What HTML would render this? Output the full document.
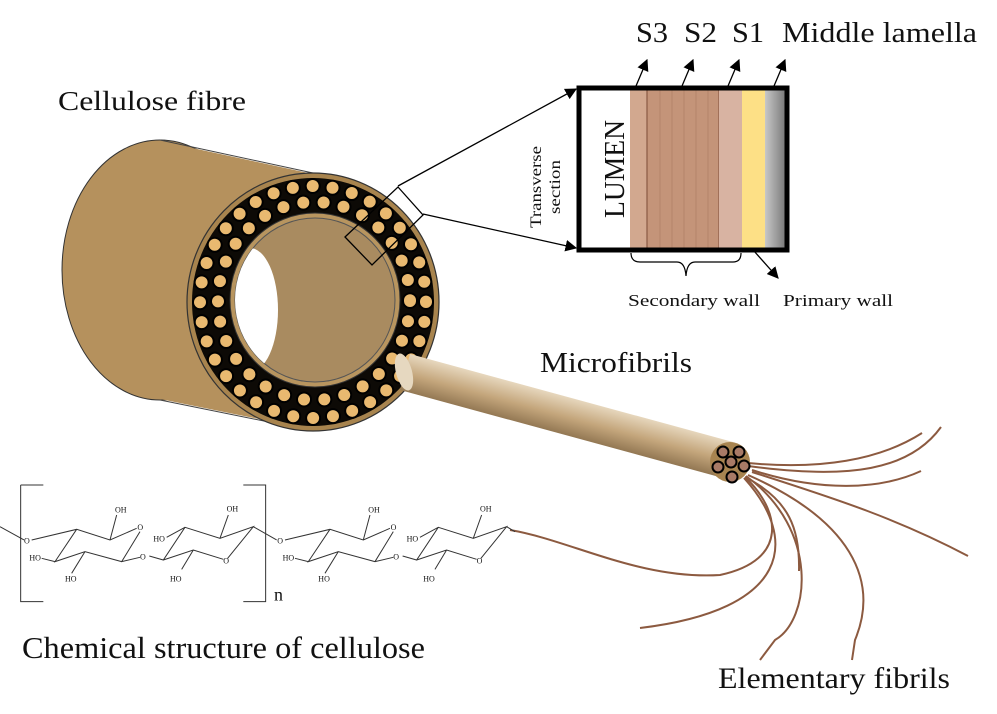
<!DOCTYPE html>
<html><head><meta charset="utf-8"><style>
body{margin:0;background:#fff}
svg{display:block}
text{font-family:"Liberation Serif",serif;fill:#111}
</style></head><body>
<svg width="997" height="714" viewBox="0 0 997 714" xmlns="http://www.w3.org/2000/svg">
<defs>
<linearGradient id="cab" gradientUnits="userSpaceOnUse" x1="560" y1="435" x2="570" y2="398">
<stop offset="0" stop-color="#8f7450"/><stop offset="0.5" stop-color="#c4a67c"/><stop offset="1" stop-color="#e6d6bc"/></linearGradient>
<linearGradient id="gray" x1="0" x2="1"><stop offset="0" stop-color="#c8c8c8"/><stop offset="1" stop-color="#777"/></linearGradient>
<clipPath id="hole"><ellipse cx="315" cy="300" rx="80" ry="82"/></clipPath>
<marker id="ar" viewBox="0 0 10 10" refX="9" refY="5" markerWidth="9" markerHeight="9" orient="auto"><path d="M0,0 L10,5 L0,10 z" fill="#000"/></marker>
</defs>

<ellipse cx="160" cy="270" rx="98" ry="130" fill="#b5915d" stroke="#333" stroke-width="1"/>
<path d="M160,140 L313,173 M160,400 L313,431" stroke="#444" stroke-width="1"/>
<path d="M160,141 L313,174 L313,430 L160,399 Z" fill="#b5915d"/>
<ellipse cx="313" cy="302" rx="126" ry="129" fill="#a8844e" stroke="#333" stroke-width="1.2"/>
<ellipse cx="313" cy="302" rx="121" ry="124" fill="#0d0a06"/>
<ellipse cx="313" cy="302" rx="113" ry="116" fill="none" stroke="#000" stroke-width="16" stroke-linecap="round" stroke-dasharray="0 20" pathLength="720"/>
<ellipse cx="313" cy="302" rx="113" ry="116" fill="none" stroke="#e9b970" stroke-width="12" stroke-linecap="round" stroke-dasharray="0 20" pathLength="720"/>
<ellipse cx="314" cy="301" rx="96" ry="99" fill="none" stroke="#000" stroke-width="16" stroke-linecap="round" stroke-dasharray="0 20" pathLength="600"/>
<ellipse cx="314" cy="301" rx="96" ry="99" fill="none" stroke="#e9b970" stroke-width="12" stroke-linecap="round" stroke-dasharray="0 20" pathLength="600"/>
<ellipse cx="315" cy="300" rx="85" ry="87" fill="#b8955f" stroke="#333" stroke-width="1"/>
<ellipse cx="315" cy="300" rx="80" ry="82" fill="#a98b60" stroke="#555" stroke-width="1"/>
<g clip-path="url(#hole)"><ellipse cx="250" cy="310" rx="28" ry="62" fill="#fff"/></g>

<path d="M345,237 L398,187 L423,215 L372,265 Z" fill="none" stroke="#000" stroke-width="1.3"/>
<line x1="398" y1="186" x2="576" y2="89" stroke="#000" stroke-width="1.3" marker-end="url(#ar)"/>
<line x1="423" y1="214" x2="576" y2="248" stroke="#000" stroke-width="1.3" marker-end="url(#ar)"/>

<rect x="580" y="89" width="50" height="160" fill="#fff"/>
<rect x="630" y="89" width="17" height="160" fill="#d2a88f"/>
<rect x="647" y="89" width="72" height="160" fill="#c49479"/>
<g stroke="#b07f66" stroke-width="0.8">
<line x1="660" y1="89" x2="660" y2="249"/><line x1="672" y1="89" x2="672" y2="249"/><line x1="684" y1="89" x2="684" y2="249"/><line x1="696" y1="89" x2="696" y2="249"/><line x1="708" y1="89" x2="708" y2="249"/>
</g>
<line x1="647" y1="89" x2="647" y2="249" stroke="#8a5a44" stroke-width="1.2"/>
<line x1="719" y1="89" x2="719" y2="249" stroke="#8a5a44" stroke-width="1.2"/>
<rect x="719" y="89" width="23" height="160" fill="#d8b3a2"/>
<rect x="742" y="89" width="23" height="160" fill="#fde086"/>
<rect x="765" y="89" width="21" height="160" fill="url(#gray)"/>
<rect x="579" y="88" width="208" height="162" fill="none" stroke="#000" stroke-width="5"/>
<text transform="translate(624,169) rotate(-90)" font-size="28" text-anchor="middle" textLength="98" lengthAdjust="spacingAndGlyphs">LUMEN</text>
<text transform="translate(541,187) rotate(-90)" font-size="16" text-anchor="middle" textLength="82" lengthAdjust="spacingAndGlyphs">Transverse</text>
<text transform="translate(560,187) rotate(-90)" font-size="16" text-anchor="middle" textLength="54" lengthAdjust="spacingAndGlyphs">section</text>
<g stroke="#000" stroke-width="1.3">
<line x1="636" y1="86" x2="647" y2="60" marker-end="url(#ar)"/>
<line x1="682" y1="86" x2="693" y2="60" marker-end="url(#ar)"/>
<line x1="728" y1="86" x2="739" y2="60" marker-end="url(#ar)"/>
<line x1="774" y1="86" x2="785" y2="60" marker-end="url(#ar)"/>
<line x1="754" y1="251" x2="778" y2="278" marker-end="url(#ar)"/>
</g>
<path d="M631,253 Q631,262 640,262 L677,262 Q685,262 686,276 Q687,262 695,262 L733,262 Q741,262 741,253" fill="none" stroke="#000" stroke-width="1.2"/>
<text x="628" y="306" font-size="17" textLength="132" lengthAdjust="spacingAndGlyphs">Secondary wall</text>
<text x="783" y="306" font-size="17" textLength="110" lengthAdjust="spacingAndGlyphs">Primary wall</text>
<text x="636" y="42" font-size="28" textLength="32" lengthAdjust="spacingAndGlyphs">S3</text>
<text x="684" y="42" font-size="28" textLength="33" lengthAdjust="spacingAndGlyphs">S2</text>
<text x="732" y="42" font-size="28" textLength="32" lengthAdjust="spacingAndGlyphs">S1</text>
<text x="782" y="42" font-size="28" textLength="195" lengthAdjust="spacingAndGlyphs">Middle lamella</text>
<text x="58" y="110" font-size="27" textLength="188" lengthAdjust="spacingAndGlyphs">Cellulose fibre</text>
<text x="540" y="372" font-size="28" textLength="152" lengthAdjust="spacingAndGlyphs">Microfibrils</text>
<text x="22" y="658" font-size="31" textLength="403" lengthAdjust="spacingAndGlyphs">Chemical structure of cellulose</text>
<text x="718" y="688" font-size="30" textLength="232" lengthAdjust="spacingAndGlyphs">Elementary fibrils</text>

<g fill="none" stroke="#8c5a40" stroke-width="2">
<path d="M748,463 C820,470 880,460 922,433"/>
<path d="M748,466 C850,480 910,470 941,427"/>
<path d="M752,470 C820,492 880,490 921,471"/>
<path d="M752,472 C840,500 900,520 968,556"/>
<path d="M748,475 C850,520 880,580 855,640 L852,660"/>
<path d="M746,476 C820,530 810,620 775,640 L760,660"/>
<path d="M744,478 C800,540 790,610 640,628"/>
<path d="M745,477 C790,500 800,530 799,571"/>
<path d="M745,477 C780,510 790,560 720,575 C640,580 570,540 510,530"/>
</g>
<polygon points="410,354 733,442 723,478 400,390" fill="url(#cab)"/>
<ellipse cx="404" cy="372" rx="8" ry="19" fill="#e6d8c0" transform="rotate(-15 404 372)"/>
<circle cx="730" cy="462" r="20" fill="#a88450"/>
<g fill="#a87a66" stroke="#000" stroke-width="2">
<circle cx="723" cy="452" r="5.5"/><circle cx="739" cy="452" r="5.5"/><circle cx="718" cy="467" r="5.5"/>
<circle cx="731" cy="462" r="5.5"/><circle cx="744" cy="466" r="5.5"/><circle cx="732" cy="477" r="5.5"/>
</g>

<g transform="translate(0,480) scale(0.3333)" fill="none" stroke="#333" stroke-width="3">
<path d="M62,15 L130,15 M62,15 L62,365 L130,365"/>
<path d="M730,15 L797,15 L797,365 L730,365"/>
<path d="M0,140 L72,180"/>
<path d="M95,180 L230,148 L330,180 L410,145 M420,155 L365,245 L255,215 L165,245 L230,148"/>
<path d="M330,180 L350,105 M165,245 L125,235 M255,215 L215,280 M365,245 L420,232"/>
<path d="M448,228 L490,240 L555,142 L660,175 L760,140 L683,235 M670,238 L580,210 L490,240"/>
<path d="M660,175 L685,105 M555,142 L500,172 M580,210 L545,268 M760,140 L830,180"/>
<path transform="translate(760,0)" d="M95,180 L230,148 L330,180 L410,145 M420,155 L365,245 L255,215 L165,245 L230,148 M330,180 L350,105 M165,245 L125,235 M255,215 L215,280 M365,245 L420,232"/>
<path transform="translate(760,0)" d="M448,228 L490,240 L555,142 L660,175 L760,140 L683,235 M670,238 L580,210 L490,240 M660,175 L685,105 M555,142 L500,172 M580,210 L545,268 M760,140 L785,155"/>
<g stroke="none" fill="#333" font-size="24" font-family="Liberation Sans,sans-serif">
<text x="72" y="190">O</text><text x="412" y="150">O</text><text x="420" y="238">O</text>
<text x="345" y="98">OH</text><text x="88" y="242">HO</text><text x="195" y="305">HO</text>
<text x="680" y="95">OH</text><text x="460" y="185">HO</text><text x="510" y="305">HO</text><text x="670" y="250">O</text>
<text x="832" y="190">O</text><text x="1172" y="150">O</text><text x="1180" y="238">O</text>
<text x="1105" y="98">OH</text><text x="848" y="242">HO</text><text x="955" y="305">HO</text>
<text x="1440" y="95">OH</text><text x="1220" y="185">HO</text><text x="1270" y="305">HO</text><text x="1430" y="250">O</text>
</g>
<text x="822" y="362" font-size="54" stroke="none" fill="#222">n</text>
</g>
</svg>
</body></html>
